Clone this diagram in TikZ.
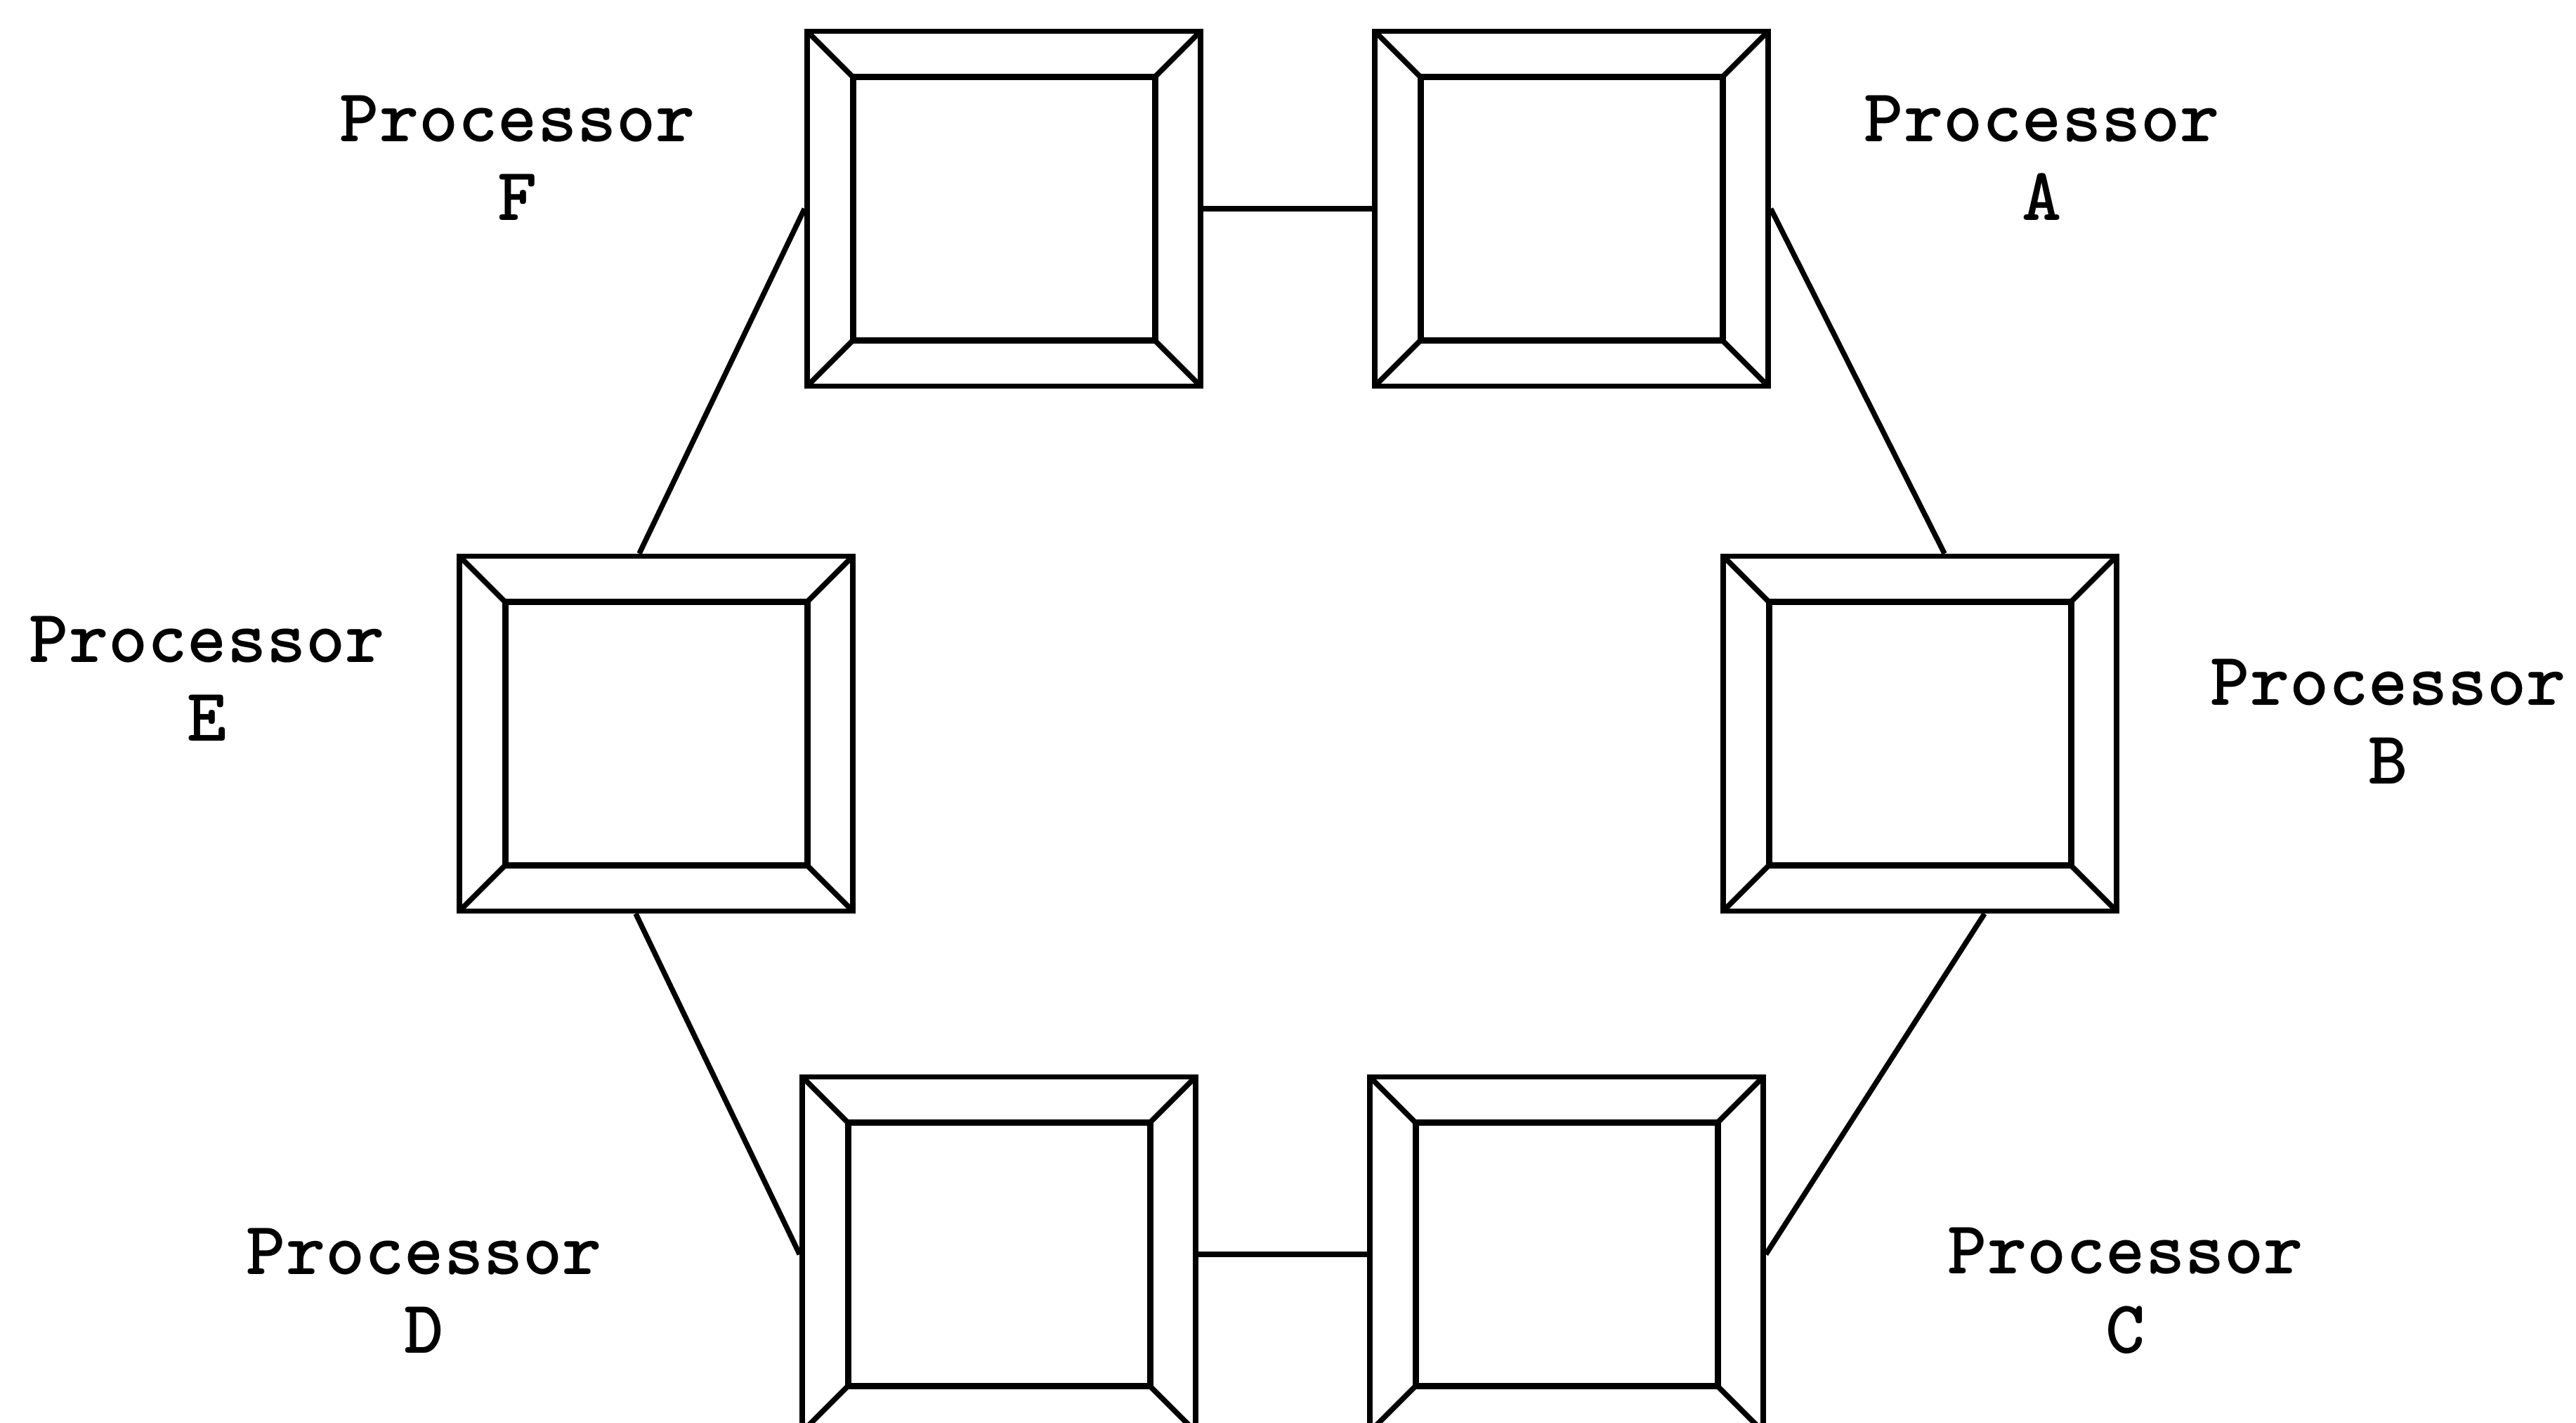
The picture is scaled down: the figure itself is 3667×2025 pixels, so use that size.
\documentclass[tikz,border=0pt]{standalone}
\usepackage{fontspec}
\usetikzlibrary{positioning}
\tikzset{
  procbox/.style={draw, line width=0.75mm, minimum width=56mm, minimum height=50.5mm, inner sep=0pt,
    path picture={
      \draw[line width=0.9mm] ([shift={(6.5mm,6.5mm)}]path picture bounding box.south west)
        rectangle ([shift={(-6.5mm,-6.5mm)}]path picture bounding box.north east);
      \draw[line width=0.75mm] (path picture bounding box.south west) -- ++(6.5mm,6.5mm);
      \draw[line width=0.75mm] (path picture bounding box.south east) -- ++(-6.5mm,6.5mm);
      \draw[line width=0.75mm] (path picture bounding box.north west) -- ++(6.5mm,-6.5mm);
      \draw[line width=0.75mm] (path picture bounding box.north east) -- ++(-6.5mm,-6.5mm);
    }},
  proclabel/.style={align=center, font=\ttfamily\bfseries\fontsize{30.5}{32}\selectfont},
  link/.style={line width=0.75mm}
}
\begin{document}
\begin{tikzpicture}[x=0.1mm, y=-0.1mm]
  \useasboundingbox (0,0) rectangle (3667,2025);
  % Processors
  \node[procbox] (F) at (1429,297) {};
  \node[procbox] (A) at (2237,297) {};
  \node[procbox] (E) at (934,1044) {};
  \node[procbox] (B) at (2733,1044) {};
  \node[procbox] (D) at (1422,1785) {};
  \node[procbox] (C) at (2230,1785) {};
  % Labels
  \node[proclabel] (labF) at (737,225) {Processor\\F};
  \node[proclabel] (labA) at (2907,225) {Processor\\A};
  \node[proclabel] (labE) at (295,966) {Processor\\E};
  \node[proclabel] (labB) at (3400,1027) {Processor\\B};
  \node[proclabel] (labD) at (604,1837) {Processor\\D};
  \node[proclabel] (labC) at (3026,1837) {Processor\\C};
  % Ring links
  \draw[link] (F.east) -- (A.west);
  \draw[link] (A.east) -- ([xshift=3.5mm]B.north);
  \draw[link] ([xshift=9.2mm]B.south) -- (C.east);
  \draw[link] (C.west) -- (D.east);
  \draw[link] (D.west) -- ([xshift=-2.9mm]E.south);
  \draw[link] ([xshift=-2.4mm]E.north) -- (F.west);
\end{tikzpicture}
\end{document}
